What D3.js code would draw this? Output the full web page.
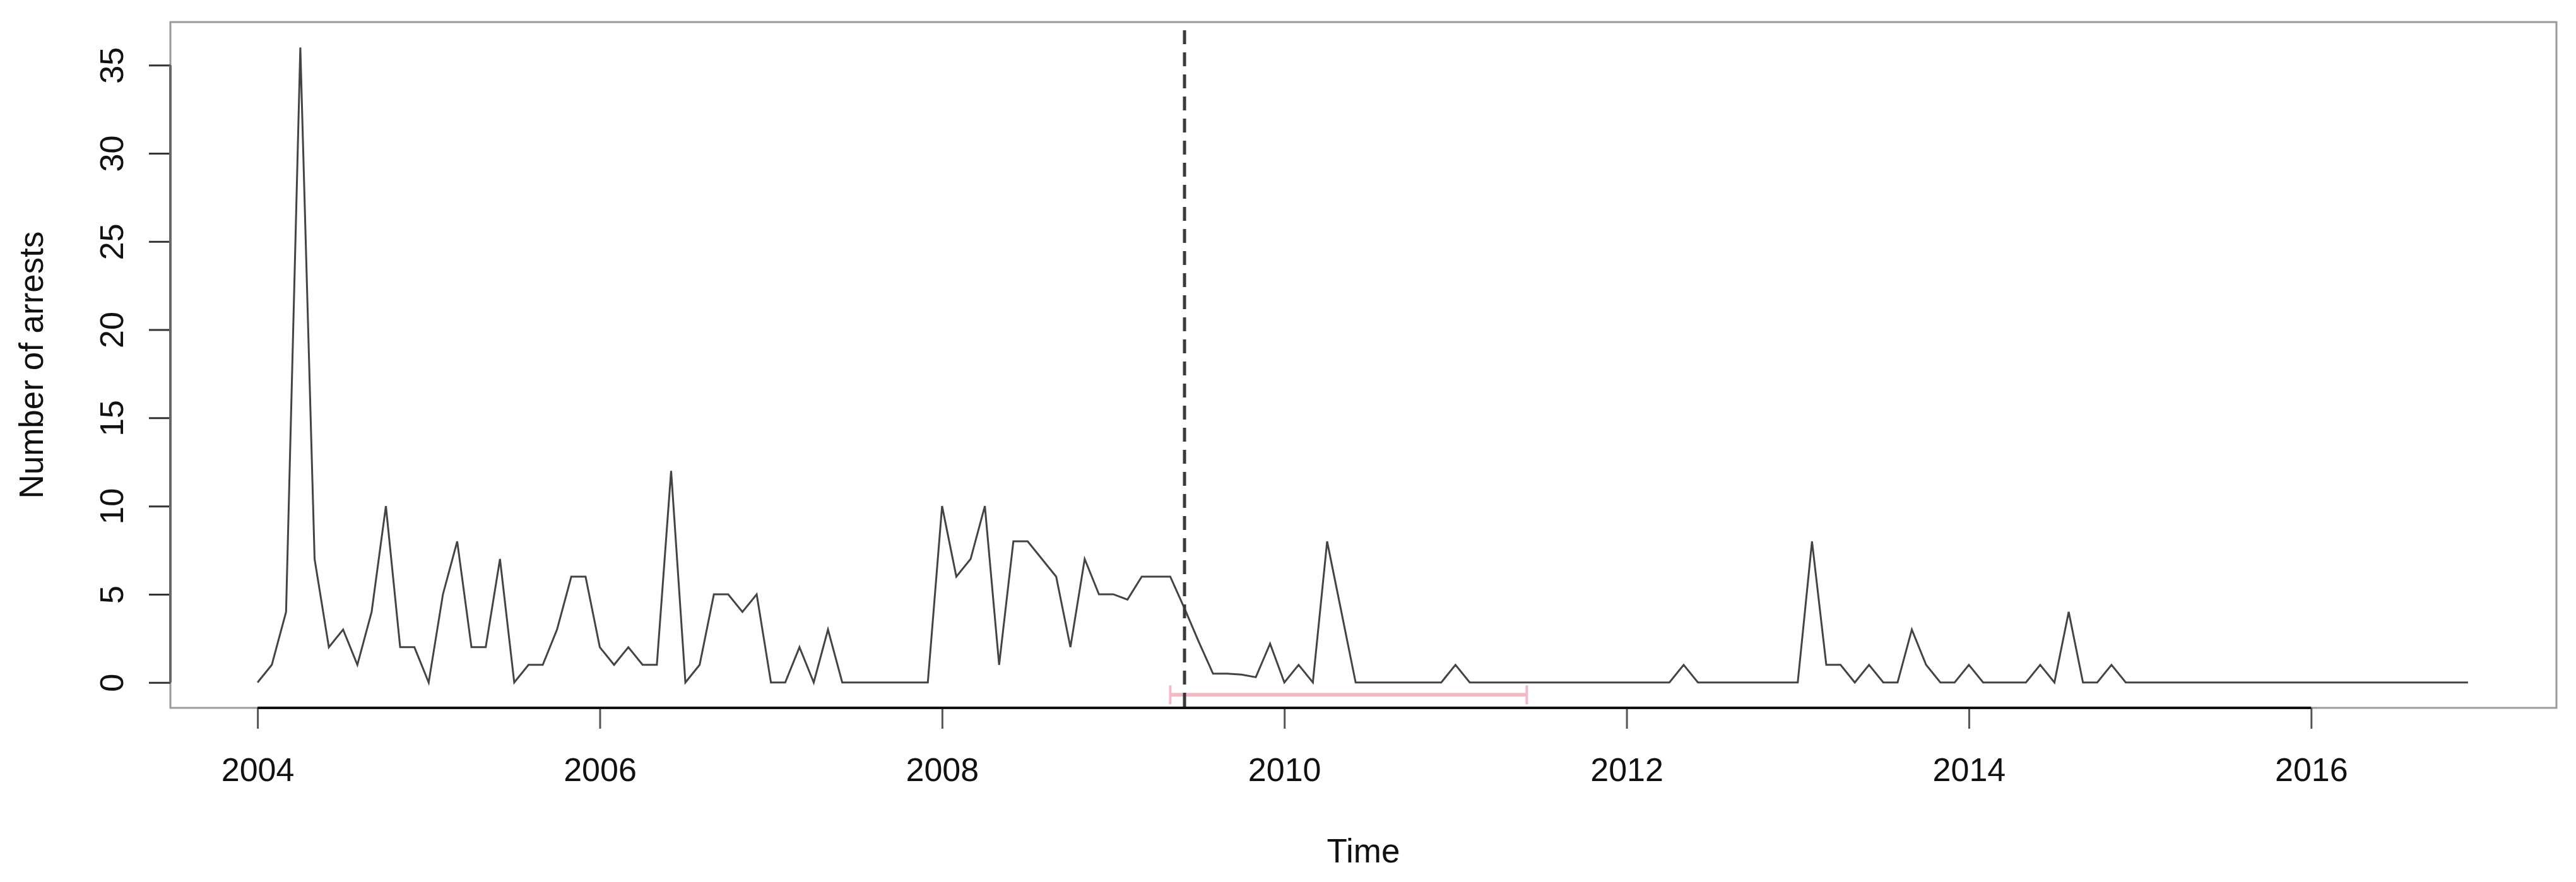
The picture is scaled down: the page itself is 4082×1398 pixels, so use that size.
<!DOCTYPE html>
<html>
<head>
<meta charset="utf-8">
<script src="https://cdn.jsdelivr.net/npm/d3@7"></script>
<style>
  html, body { margin: 0; padding: 0; background: #fff; }
  svg { display: block; font-family: "Liberation Sans", Arial, sans-serif; }
</style>
</head>
<body>
<svg id="chart" width="4082" height="1398"></svg>
<script>
// ---- data (monthly counts, Jan 2004 - Dec 2016) ----
const startYear = 2004;
const arrests2004 = [0, 1, 4, 36, 7, 2, 3, 1, 4, 10, 2, 2];
const arrests2005 = [0, 5, 8, 2, 2, 7, 0, 1, 1, 3, 6, 6];
const arrests2006 = [2, 1, 2, 1, 1, 12, 0, 1, 5, 5, 4, 5];
const arrests2007 = [0, 0, 2, 0, 3, 0, 0, 0, 0, 0, 0, 0];
const arrests2008 = [10, 6, 7, 10, 1, 8, 8, 7, 6, 2, 7, 5];
const arrests2009 = [5, 4.7, 6, 6, 6, 4.2, 2.3, 0.5, 0.5, 0.45, 0.3, 2.2];
const arrests2010 = [0, 1, 0, 8, 4, 0, 0, 0, 0, 0, 0, 0];
const arrests2011 = [1, 0, 0, 0, 0, 0, 0, 0, 0, 0, 0, 0];
const arrests2012 = [0, 0, 0, 0, 1, 0, 0, 0, 0, 0, 0, 0];
const arrests2013 = [0, 8, 1, 1, 0, 1, 0, 0, 3, 1, 0, 0];
const arrests2014 = [1, 0, 0, 0, 0, 1, 0, 4, 0, 0, 1, 0];
const arrests2015 = [0, 0, 0, 0, 0, 0, 0, 0, 0, 0, 0, 0];
const arrests2016 = [0, 0, 0, 0, 0, 0, 0, 0, 0, 0, 0, 0];

const xTickLabels = [2004, 2006, 2008, 2010, 2012, 2014, 2016];
const yTickLabels = [0, 5, 10, 15, 20, 25, 30, 35];

const breakpoint = 2009.4167;          // dashed vertical line (Jun 2009)
const breakCI = [2009.3333, 2011.4167]; // confidence interval of breakpoint
const ciLevel = -0.7;

const xLabel = "Time";
const yLabel = "Number of arrests";

// ---- build series ----
const allValues = [].concat(arrests2004, arrests2005, arrests2006, arrests2007,
  arrests2008, arrests2009, arrests2010, arrests2011, arrests2012, arrests2013,
  arrests2014, arrests2015, arrests2016);
const series = allValues.map((v, i) => ({ t: startYear + i / 12, v: v }));

// ---- layout ----
const svg = d3.select("#chart");
const plotLeft = 270, plotRight = 4051, plotTop = 35, plotBottom = 1122;

const tMin = series[0].t, tMax = series[series.length - 1].t;
const tPad = (tMax - tMin) * 0.04;
const x = d3.scaleLinear().domain([tMin - tPad, tMax + tPad]).range([268, plotRight]);
const yMax = d3.max(allValues), yMin = 0;
const yPad = (yMax - yMin) * 0.04;
const y = d3.scaleLinear().domain([yMin - yPad, yMax + yPad]).range([plotBottom, plotTop]);

// box
svg.append("rect")
  .attr("x", plotLeft).attr("y", plotTop)
  .attr("width", plotRight - plotLeft).attr("height", plotBottom - plotTop)
  .attr("fill", "none").attr("stroke", "#9a9a9a").attr("stroke-width", 3);

// bottom axis
const xAxis = d3.axisBottom(x).tickValues(xTickLabels).tickFormat(d3.format("d"))
  .tickSize(33).tickSizeOuter(0).tickPadding(46);
const gx = svg.append("g").attr("transform", `translate(0,${plotBottom})`).call(xAxis);
gx.select(".domain").remove();
gx.selectAll(".tick line").attr("stroke", "#555").attr("stroke-width", 3);
gx.selectAll(".tick text").attr("fill", "#111").style("font-size", "52px");
svg.append("line")
  .attr("x1", x(xTickLabels[0])).attr("x2", x(xTickLabels[xTickLabels.length - 1]))
  .attr("y1", plotBottom).attr("y2", plotBottom)
  .attr("stroke", "#111").attr("stroke-width", 4);

// left axis
const yAxis = d3.axisLeft(y).tickValues(yTickLabels).tickFormat(d3.format("d"))
  .tickSize(34).tickSizeOuter(0);
const gy = svg.append("g").attr("transform", `translate(${plotLeft},0)`).call(yAxis);
gy.select(".domain").remove();
gy.selectAll(".tick line").attr("stroke", "#333").attr("stroke-width", 3);
gy.selectAll(".tick text")
  .attr("x", null).attr("dy", null)
  .attr("text-anchor", "middle")
  .attr("transform", `translate(${195 - plotLeft},0) rotate(-90)`)
  .attr("fill", "#111").style("font-size", "52px");
svg.append("line")
  .attr("x1", plotLeft).attr("x2", plotLeft)
  .attr("y1", y(yTickLabels[0])).attr("y2", y(yTickLabels[yTickLabels.length - 1]))
  .attr("stroke", "#666").attr("stroke-width", 4);

// axis titles
svg.append("text")
  .attr("x", (plotLeft + plotRight) / 2).attr("y", 1367)
  .attr("text-anchor", "middle").attr("fill", "#111")
  .style("font-size", "53px").text(xLabel);
svg.append("text")
  .attr("transform", `translate(68,${(plotTop + plotBottom) / 2}) rotate(-90)`)
  .attr("text-anchor", "middle").attr("fill", "#111")
  .style("font-size", "53px").text(yLabel);

// confidence interval (pink) with end caps
const ciG = svg.append("g").attr("stroke", "#f2b9c6").attr("stroke-width", 6);
ciG.append("line")
  .attr("x1", x(breakCI[0])).attr("x2", x(breakCI[1]))
  .attr("y1", y(ciLevel)).attr("y2", y(ciLevel));
breakCI.forEach(b => {
  ciG.append("line")
    .attr("x1", x(b)).attr("x2", x(b))
    .attr("y1", y(ciLevel) - 15).attr("y2", y(ciLevel) + 15)
    .attr("stroke-width", 4);
});

// series line
svg.append("path")
  .datum(series)
  .attr("fill", "none")
  .attr("stroke", "#444")
  .attr("stroke-width", 3)
  .attr("stroke-linejoin", "miter")
  .attr("d", d3.line().x(d => x(d.t)).y(d => y(d.v)));

// breakpoint dashed line
svg.append("line")
  .attr("x1", x(breakpoint)).attr("x2", x(breakpoint))
  .attr("y1", plotTop).attr("y2", plotBottom)
  .attr("stroke", "#3a3a3a").attr("stroke-width", 5)
  .attr("stroke-dasharray", "22 13").attr("stroke-dashoffset", 22);
</script>
</body>
</html>
